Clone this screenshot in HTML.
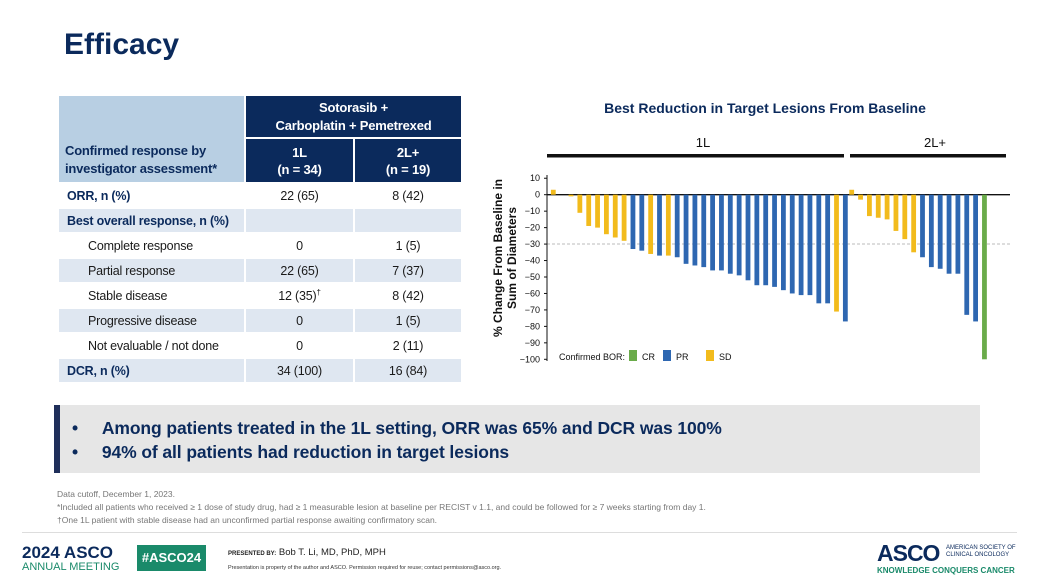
<!DOCTYPE html>
<html><head><meta charset="utf-8"><style>
*{margin:0;padding:0;box-sizing:border-box}
body{width:1038px;height:584px;background:#fff;font-family:"Liberation Sans",sans-serif;position:relative;overflow:hidden;color:#0b2a5c}
.abs{position:absolute}
table{position:absolute;left:57px;top:94px;width:404px;border-collapse:collapse;table-layout:fixed;font-size:12.5px;color:#1a1a1a;letter-spacing:-0.2px}
td{border:2px solid #fff;height:25px;text-align:center;padding:0;white-space:nowrap}
td.l{text-align:left;padding-left:8px}
td.i{text-align:left;padding-left:29px}
.n{background:#0b2a5c;color:#fff;font-weight:bold}
.lb{background:#dfe7f1}
</style></head><body>
<div class="abs" style="left:64px;top:28px;font-size:30px;font-weight:bold;color:#0b2a5c">Efficacy</div>

<table>
<colgroup><col style="width:187px"><col style="width:109px"><col style="width:108px"></colgroup>
<tr><td rowspan="2" style="background:#b8cfe3;color:#0b2a5c;font-weight:bold;text-align:left;padding:42px 0 0 6px;line-height:18px;font-size:13px">Confirmed response by<br>investigator assessment*</td>
<td colspan="2" class="n" style="height:43px;line-height:18px;font-size:13px">Sotorasib +<br>Carboplatin + Pemetrexed</td></tr>
<tr><td class="n" style="height:45px;line-height:17px;font-size:13px">1L<br>(n = 34)</td><td class="n" style="line-height:17px;font-size:13px">2L+<br>(n = 19)</td></tr>
<tr><td class="l" style="font-weight:bold;color:#0b2a5c">ORR, n (%)</td><td>22 (65)</td><td>8 (42)</td></tr>
<tr class="lb"><td class="l" style="font-weight:bold;color:#0b2a5c">Best overall response, n (%)</td><td></td><td></td></tr>
<tr><td class="i">Complete response</td><td>0</td><td>1 (5)</td></tr>
<tr class="lb"><td class="i">Partial response</td><td>22 (65)</td><td>7 (37)</td></tr>
<tr><td class="i">Stable disease</td><td>12 (35)<sup style="font-size:8px">†</sup></td><td>8 (42)</td></tr>
<tr class="lb"><td class="i">Progressive disease</td><td>0</td><td>1 (5)</td></tr>
<tr><td class="i">Not evaluable / not done</td><td>0</td><td>2 (11)</td></tr>
<tr class="lb"><td class="l" style="font-weight:bold;color:#0b2a5c">DCR, n (%)</td><td>34 (100)</td><td>16 (84)</td></tr>
</table>

<svg class="abs" style="left:0;top:0" width="1038" height="400">
<text x="765" y="113" text-anchor="middle" font-size="14" font-weight="bold" fill="#0b2a5c" font-family="Liberation Sans">Best Reduction in Target Lesions From Baseline</text>
<text x="703" y="147" text-anchor="middle" font-size="13" fill="#111">1L</text>
<text x="935" y="147" text-anchor="middle" font-size="13" fill="#111">2L+</text>
<rect x="547" y="154" width="297" height="3.5" fill="#111"/>
<rect x="850" y="154" width="156" height="3.5" fill="#111"/>
<text transform="translate(502,258) rotate(-90)" text-anchor="middle" font-size="12" font-weight="bold" fill="#111"><tspan x="0" y="0">% Change From Baseline in</tspan><tspan x="0" y="14">Sum of Diameters</tspan></text>
<line x1="547" y1="244" x2="1010" y2="244" stroke="#bbb" stroke-dasharray="3,2"/>
<g id="ticks" font-size="9" fill="#111" text-anchor="end"></g>
<line x1="547" y1="175" x2="547" y2="361" stroke="#111"/>
<line x1="547" y1="194.7" x2="1010" y2="194.7" stroke="#111" stroke-width="1.3"/>
<g id="bars"></g>
<text x="559" y="360" font-size="9" fill="#111">Confirmed BOR:</text>
<rect x="629" y="350" width="8" height="11" fill="#6aab4a"/><text x="642" y="360" font-size="9" fill="#111">CR</text>
<rect x="663" y="350" width="8" height="11" fill="#2e67b1"/><text x="676" y="360" font-size="9" fill="#111">PR</text>
<rect x="706" y="350" width="8" height="11" fill="#f2bb1c"/><text x="719" y="360" font-size="9" fill="#111">SD</text>
</svg>
<script>
var y0=194.7,s=1.646,g=document.getElementById('ticks'),b=document.getElementById('bars'),h='';
for(var v=10;v>=-100;v-=10){var y=y0-v*s;h+='<text x="540" y="'+(y+3)+'">'+(v<0?'\u2212'+(-v):v)+'</text><line x1="544" x2="547" y1="'+y+'" y2="'+y+'" stroke="#111"/>';}
g.innerHTML=h;
var C={S:'#f2bb1c',P:'#2e67b1',C:'#6aab4a'};
var L=[[3,'S'],[0,'S'],[-1,'S'],[-11,'S'],[-19,'S'],[-20,'S'],[-24,'S'],[-26,'S'],[-28,'S'],[-33,'P'],[-34,'P'],[-36,'S'],[-37,'P'],[-37,'S'],[-38,'P'],[-42,'P'],[-43,'P'],[-44,'P'],[-46,'P'],[-46,'P'],[-48,'P'],[-49,'P'],[-52,'P'],[-55,'P'],[-55,'P'],[-56,'P'],[-58,'P'],[-60,'P'],[-61,'P'],[-61,'P'],[-66,'P'],[-66,'P'],[-71,'S'],[-77,'P']];
var R=[[3,'S'],[-3,'S'],[-13,'S'],[-14,'S'],[-15,'S'],[-22,'S'],[-27,'S'],[-35,'S'],[-38,'P'],[-44,'P'],[-45,'P'],[-48,'P'],[-48,'P'],[-73,'P'],[-77,'P'],[-100,'C']];
h='';
function add(arr,x0,dx){arr.forEach(function(d,i){var x=x0+i*dx,v=d[0];if(v==0)return;var y=v>0?y0-v*s:y0,hh=Math.abs(v)*s;h+='<rect x="'+(x-2.4)+'" y="'+y+'" width="4.8" height="'+hh+'" fill="'+C[d[1]]+'"/>';});}
add(L,553.3,8.85);add(R,851.7,8.85);
b.innerHTML=h;
</script>

<div class="abs" style="left:54px;top:405px;width:926px;height:68px;background:#e6e6e6;border-left:6px solid #1f2f5a"></div>
<div class="abs" style="left:72px;top:416px;font-size:17.5px;font-weight:bold;color:#0b2a5c;line-height:24px;letter-spacing:-0.1px">
<div>•&nbsp;&nbsp;&nbsp;&nbsp;&nbsp;Among patients treated in the 1L setting, ORR was 65% and DCR was 100%</div>
<div>•&nbsp;&nbsp;&nbsp;&nbsp;&nbsp;94% of all patients had reduction in target lesions</div>
</div>

<div class="abs" style="left:57px;top:488px;font-size:8.5px;color:#777;line-height:13px">
Data cutoff, December 1, 2023.<br>
*Included all patients who received ≥ 1 dose of study drug, had ≥ 1 measurable lesion at baseline per RECIST v 1.1, and could be followed for ≥ 7 weeks starting from day 1.<br>
†One 1L patient with stable disease had an unconfirmed partial response awaiting confirmatory scan.
</div>
<div class="abs" style="left:22px;top:532px;width:995px;height:1px;background:#ddd"></div>
<div class="abs" style="left:22px;top:543px;font-size:17px;font-weight:bold;color:#0b2a5c">2024 ASCO</div>
<div class="abs" style="left:22px;top:561px;font-size:11px;color:#1a8a6a">ANNUAL MEETING</div>
<div class="abs" style="left:137px;top:545px;width:69px;height:26px;background:#1a8a6a;color:#fff;font-size:13px;font-weight:bold;text-align:center;line-height:26px">#ASCO24</div>
<div class="abs" style="left:228px;top:547px;font-size:9.5px;color:#222"><span style="font-size:6px;font-weight:bold">PRESENTED BY:</span> Bob T. Li, MD, PhD, MPH</div>
<div class="abs" style="left:228px;top:565px;font-size:5.5px;color:#333">Presentation is property of the author and ASCO. Permission required for reuse; contact permissions@asco.org.</div>
<div class="abs" style="left:877px;top:540px;font-size:23px;font-weight:bold;color:#0b2a5c;letter-spacing:-1px">ASCO</div>
<div class="abs" style="left:946px;top:545px;font-size:6px;color:#0b2a5c;line-height:7px">AMERICAN SOCIETY OF<br>CLINICAL ONCOLOGY</div>
<div class="abs" style="left:877px;top:566px;font-size:8px;font-weight:bold;color:#1a8a6a">KNOWLEDGE CONQUERS CANCER</div>
</body></html>
